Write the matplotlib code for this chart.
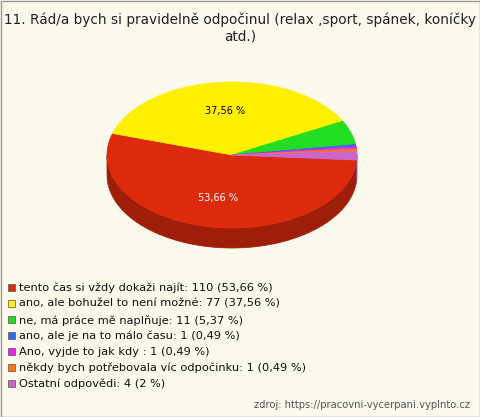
import numpy as np
import matplotlib
matplotlib.use("Agg")
import matplotlib.pyplot as plt
from matplotlib.patches import Polygon, Rectangle
from matplotlib.colors import to_rgb

title = "11. Rád/a bych si pravidelně odpočinul (relax ,sport, spánek, koníčky\natd.)"
labels = ["tento čas si vždy dokaži najít: 110 (53,66 %)",
          "ano, ale bohužel to není možné: 77 (37,56 %)",
          "ne, má práce mě naplňuje: 11 (5,37 %)",
          "ano, ale je na to málo času: 1 (0,49 %)",
          "Ano, vyjde to jak kdy : 1 (0,49 %)",
          "někdy bych potřebovala víc odpočinku: 1 (0,49 %)",
          "Ostatní odpovědi: 4 (2 %)"]
values = [110, 77, 11, 1, 1, 1, 4]
pct_labels = ["53,66 %", "37,56 %"]
colors = ["#dd2a0c", "#fff000", "#22dd22", "#3366ee", "#ee22ee", "#ff7700", "#cc66cc"]

fig = plt.figure(figsize=(4.8, 4.17), dpi=100)
fig.patch.set_facecolor("#fbf8ec")
ax = fig.add_axes([0, 0, 1, 1])
ax.set_xlim(0, 480); ax.set_ylim(417, 0); ax.axis("off")
ax.add_patch(Rectangle((0.5, 0.5), 479, 416, fill=False, ec="#999999", lw=1))

cx, cy, rx, ry, depth = 232, 155, 125, 73, 20
start = -4.0
total = sum(values)
angs = [start]
for v in values:
    angs.append(angs[-1] - 360 * v / total)

def pt(a):
    r = np.radians(a)
    return cx + rx * np.cos(r), cy - ry * np.sin(r)

def dark(c, f=0.72):
    return tuple(x * f for x in to_rgb(c))

for i, c in enumerate(colors):
    a0, a1 = angs[i + 1], angs[i]
    t = np.linspace(a0, a1, 200)
    t = t[np.sin(np.radians(t)) <= 0.001]
    if len(t) < 2:
        continue
    xs, ys = zip(*[pt(a) for a in t])
    poly = list(zip(xs, ys)) + list(zip(xs[::-1], [y + depth for y in ys[::-1]]))
    ax.add_patch(Polygon(poly, closed=True, fc=dark(c), ec=dark(c), lw=0.5))

for i, c in enumerate(colors):
    a0, a1 = angs[i + 1], angs[i]
    t = np.linspace(a0, a1, max(3, int(abs(a1 - a0)) + 2))
    poly = [(cx, cy)] + [pt(a) for a in t]
    ax.add_patch(Polygon(poly, closed=True, fc=c, ec=c, lw=0.5))

for i, (lab, col) in enumerate(zip(pct_labels, ["white", "black"])):
    mid = (angs[i] + angs[i + 1]) / 2
    r = np.radians(mid)
    ax.text(cx + 0.6 * rx * np.cos(r), cy - 0.6 * ry * np.sin(r), lab,
            ha="center", va="center", fontsize=7, color=col)

ax.text(240, 28, title, ha="center", va="center", fontsize=9.8, color="#222222",
        linespacing=1.15)

for i, (lab, c) in enumerate(zip(labels, colors)):
    y = 288 + 16 * i
    ax.add_patch(Rectangle((8, y - 4), 7, 7, fc=c, ec="#555555", lw=0.5))
    ax.text(19, y, lab, ha="left", va="center", fontsize=8.2, color="#111111")

ax.text(470, 405, "zdroj: https://pracovni-vycerpani.vyplnto.cz", ha="right", va="center",
        fontsize=7.2, color="#555555")

fig.savefig("out.png", dpi=100, facecolor=fig.get_facecolor())
